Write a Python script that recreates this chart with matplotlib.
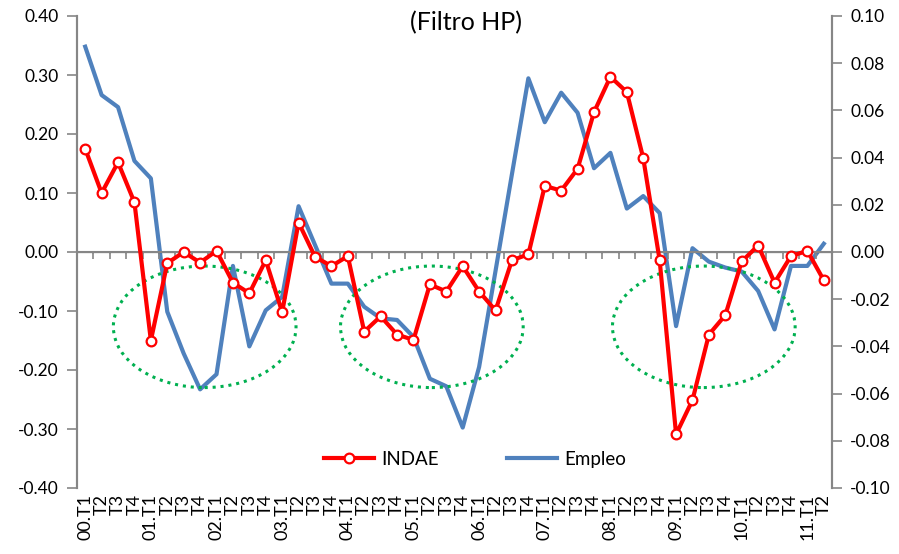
import numpy as np
import matplotlib
matplotlib.use("Agg")
import matplotlib.pyplot as plt
from matplotlib.patches import Ellipse

plt.rcParams['font.family'] = ['Lato', 'DejaVu Sans']

years = ["00", "01", "02", "03", "04", "05", "06", "07", "08", "09", "10", "11"]
quarters = ["T1", "T2", "T3", "T4"]
labels = []
for y in years:
    for q in quarters:
        labels.append(f"{y}.{q}" if q == "T1" else q)
labels = labels[:46]

indae = [0.175, 0.100, 0.152, 0.084,
         -0.150, -0.019, 0.000, -0.018,
         0.002, -0.052, -0.070, -0.014,
         -0.102, 0.050, -0.008, -0.024,
         -0.007, -0.135, -0.109, -0.140,
         -0.149, -0.055, -0.067, -0.024,
         -0.067, -0.099, -0.014, -0.004,
         0.112, 0.104, 0.141, 0.237,
         0.297, 0.271, 0.159, -0.014,
         -0.309, -0.251, -0.140, -0.107,
         -0.016, 0.011, -0.052, -0.007,
         0.002, -0.048]

empleo = [0.087, 0.0665, 0.0614, 0.0386,
          0.0312, -0.0253, -0.043, -0.0582,
          -0.0518, -0.0059, -0.040, -0.0247,
          -0.019, 0.0194, 0.003, -0.0134,
          -0.0134, -0.0232, -0.0281, -0.0288,
          -0.036, -0.0537, -0.0569, -0.0744,
          -0.0487, -0.008, 0.033, 0.0736,
          0.055, 0.0675, 0.059, 0.0355,
          0.042, 0.0184, 0.0237, 0.0165,
          -0.0314, 0.0016, -0.0041, -0.0066,
          -0.0083, -0.0165, -0.0328, -0.0059,
          -0.0059, 0.0035]

left_ticks = [0.40, 0.30, 0.20, 0.10, 0.00, -0.10, -0.20, -0.30, -0.40]
right_ticks = [0.10, 0.08, 0.06, 0.04, 0.02, 0.00, -0.02, -0.04, -0.06, -0.08, -0.10]

gray = "#868686"
red = "#FF0000"
blue = "#4F81BD"
green = "#00B050"

fig = plt.figure(figsize=(8.99, 5.54), dpi=100)
ax = fig.add_axes([77/899, 1-488/554, 755/899, 472/554])
ax2 = ax.twinx()

x = np.arange(len(labels))

ax.set_xlim(-0.5, len(labels) - 0.5)
ax.set_ylim(-0.40, 0.40)
ax2.set_ylim(-0.10, 0.10)

# ellipses (annotations)
for cx in [7.28, 21.12, 37.69]:
    e = Ellipse((cx, -0.1268), width=11.13, height=0.206, fill=False,
                edgecolor=green, linestyle=(0, (1, 1.6)), linewidth=2.2, zorder=2)
    ax.add_patch(e)

ax2.plot(x, empleo, color=blue, linewidth=3, zorder=3, label="Empleo")
ax.plot(x, indae, color=red, linewidth=3, marker='o', markersize=7,
        markerfacecolor='white', markeredgecolor=red, markeredgewidth=1.6,
        zorder=4, label="INDAE")
ax.set_zorder(ax2.get_zorder() + 1)
ax.patch.set_visible(False)

# zero axis line with tick marks between categories
ax.axhline(0, color=gray, linewidth=1.5, zorder=1)
sec = ax.secondary_xaxis(0.5)
sec.set_xticks(np.arange(0.5, len(labels) - 0.5, 1))
sec.set_xticklabels([])
sec.tick_params(axis='x', direction='in', length=5, width=1.2, color=gray)
sec.spines['bottom'].set_visible(False)

ax.set_xticks(x)
ax.set_xticklabels(labels, rotation=90, fontsize=13, va='top', ha='center')
ax.tick_params(axis='x', length=0, pad=4)

ax.set_yticks(left_ticks)
ax.set_yticklabels([f"{v:.2f}" for v in left_ticks], fontsize=12.5)
ax.tick_params(axis='y', direction='out', length=7, width=1.2, color=gray, pad=6)
ax2.set_yticks(right_ticks)
ax2.set_yticklabels([f"{v:.2f}" for v in right_ticks], fontsize=12.5)
ax2.tick_params(axis='y', direction='out', length=7, width=1.2, color=gray, pad=6)

for a in (ax, ax2):
    a.spines['top'].set_visible(False)
    a.spines['bottom'].set_visible(False)
    a.spines['left'].set_color(gray)
    a.spines['right'].set_color(gray)
    a.spines['left'].set_linewidth(1.5)
    a.spines['right'].set_linewidth(1.5)

h1, l1 = ax.get_legend_handles_labels()
h2, l2 = ax2.get_legend_handles_labels()
ax.legend(h1 + h2, l1 + l2, loc='center', bbox_to_anchor=(0.527, 0.061),
          ncol=2, frameon=False, fontsize=13.5, handlelength=2.67,
          columnspacing=3.6, handletextpad=0.4)

fig.text(466/899, 1-23/554, "(Filtro HP)", ha='center', va='center', fontsize=18)

fig.savefig("out.png", dpi=100)
